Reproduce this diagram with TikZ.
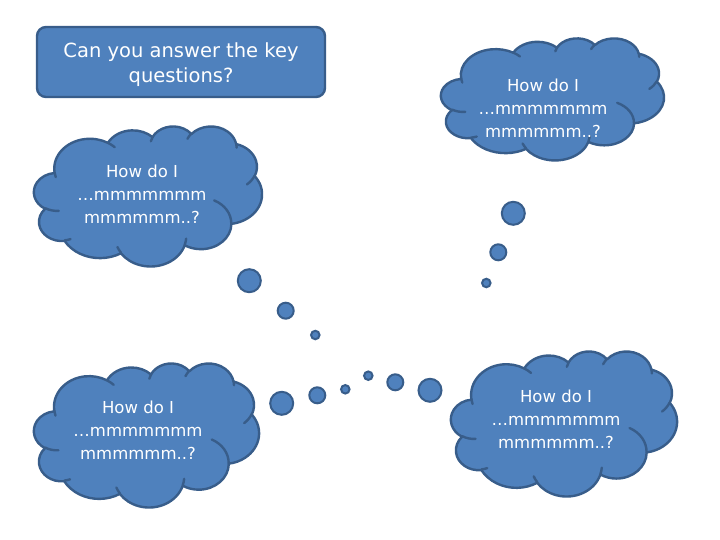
\documentclass[tikz,border=0pt]{standalone}
\usepackage{fontspec}
\setmainfont{DejaVu Sans}
\definecolor{cfill}{HTML}{4F81BD}
\definecolor{cline}{HTML}{385D8A}
\def\cpath{}
\def\ipath{}
\newcommand\addarc[4]{%
  \pgfmathsetmacro\caS{atan2(#1*sin(#3),#2*cos(#3))}%
  \pgfmathsetmacro\caE{atan2(#1*sin(#3+#4),#2*cos(#3+#4))}%
  \pgfmathsetmacro\caD{\caE-\caS}%
  \pgfmathsetmacro\caD{\caD<0 ? \caD+360 : \caD}%
  \xdef\cpath{\cpath arc[start angle=\caS, delta angle=\caD, x radius=#1, y radius=#2] }%
}
\newcommand\addiarc[6]{%
  \pgfmathsetmacro\caS{atan2(#3*sin(#5),#4*cos(#5))}%
  \pgfmathsetmacro\caE{atan2(#3*sin(#5+#6),#4*cos(#5+#6))}%
  \pgfmathsetmacro\caD{\caE-\caS}%
  \pgfmathsetmacro\caD{\caD<0 ? \caD+360 : \caD}%
  \xdef\ipath{\ipath (#1,#2) arc[start angle=\caS, delta angle=\caD, x radius=#3, y radius=#4] }%
}
\addarc{67.53}{91.90}{-190.4875}{123.7805}
\addarc{53.33}{72.67}{-144.1024}{89.9452}
\addarc{43.65}{59.45}{-145.8079}{99.7230}
\addarc{48.57}{65.95}{-130.9861}{117.2417}
\addarc{53.33}{72.73}{-78.7089}{109.0269}
\addarc{67.75}{92.20}{-46.2673}{130.2690}
\addarc{57.85}{78.67}{0.6250}{114.0333}
\addarc{67.52}{92.15}{22.4516}{115.1726}
\addarc{77.20}{105.43}{66.2426}{75.7110}
\addarc{43.60}{59.18}{-274.9421}{146.7356}
\addarc{43.45}{59.45}{-246.8285}{152.5189}
\addiarc{46.93}{261.77}{43.45}{59.45}{86.7420}{26.4295}
\addiarc{69.28}{348.99}{43.60}{59.18}{73.6105}{11.4475}
\addiarc{164.78}{390.90}{67.52}{92.15}{137.6242}{14.0811}
\addiarc{288.27}{347.51}{67.52}{92.15}{6.4533}{15.9984}
\addiarc{341.29}{229.54}{57.85}{78.67}{-70.2924}{70.9174}
\addiarc{417.98}{153.54}{53.33}{72.73}{30.3180}{27.7515}
\addiarc{383.24}{54.26}{48.57}{65.95}{-13.7443}{14.8589}
\addiarc{290.78}{39.52}{48.57}{65.95}{-149.1815}{18.1954}
\addiarc{221.41}{47.20}{43.65}{59.45}{-163.4943}{17.6864}
\addiarc{140.00}{51.92}{67.53}{91.90}{-66.7070}{12.3194}
\addiarc{41.27}{157.89}{67.53}{91.90}{157.6544}{11.8582}
\tikzset{
  cloudbody/.style={fill=cfill, draw=cline, line width=2.4pt, line join=round},
  cloudline/.style={draw=cline, line width=2.4pt, line cap=round},
  cloudtext/.style={text=white, align=center, font=\fontsize{16.5}{23}\selectfont},
  titlebox/.style={fill=cfill, draw=cline, line width=2.4pt, rounded corners=9pt},
  titletext/.style={text=white, align=center, font=\fontsize{19.5}{25}\selectfont},
  bubble/.style={circle, fill=cfill, draw=cline, line width=2pt, inner sep=0pt},
  bigb/.style={bubble, minimum size=23pt},
  midb/.style={bubble, minimum size=16pt},
  smallb/.style={bubble, minimum size=8.5pt}
}
\newcommand\drawcloud[4]{%
  \pgfmathsetmacro\sx{#3/432}\pgfmathsetmacro\sy{#4/432}%
  \begin{scope}[shift={(#1,#2)}, x=\sx pt, y=-\sy pt]
    \edef\cloudcmd{\noexpand\path[cloudbody] (39.00,143.70) \cpath -- cycle;
      \noexpand\path[cloudline] \ipath;}%
    \cloudcmd
  \end{scope}}
\begin{document}
\begin{tikzpicture}[x=1pt, y=-1pt]
\useasboundingbox[fill=white] (0,0) rectangle (720,540);
% title
\node[titlebox, minimum width=288pt, minimum height=70pt] (title) at (181,62) {};
\node[titletext] (titletxt) at (181,64.5) {Can you answer the key\\questions?};
% clouds
\drawcloud{441}{38}{223}{122}
\drawcloud{34}{126}{228}{140}
\drawcloud{34}{363}{225}{144}
\drawcloud{451}{351}{226}{145}
\node[cloudtext] (q1) at (543,108) {How do I\\…mmmmmmm\\mmmmmm..?};
\node[cloudtext] (q2) at (142,194) {How do I\\…mmmmmmm\\mmmmmm..?};
\node[cloudtext] (q3) at (138,430) {How do I\\…mmmmmmm\\mmmmmm..?};
\node[cloudtext] (q4) at (556,419) {How do I\\…mmmmmmm\\mmmmmm..?};
% bubbles
\node[bigb] (a1) at (513.3,213.3) {};
\node[midb] (a2) at (498.3,252.3) {};
\node[smallb] (a3) at (486.3,283) {};
\node[bigb] (b1) at (249.3,280.7) {};
\node[midb] (b2) at (285.7,310.7) {};
\node[smallb] (b3) at (315.3,335) {};
\node[bigb] (c1) at (281.7,403.3) {};
\node[midb] (c2) at (317.3,395.3) {};
\node[smallb] (c3) at (345.3,389.3) {};
\node[smallb] (d3) at (368.3,375.7) {};
\node[midb] (d2) at (395.3,382.3) {};
\node[bigb] (d1) at (430,390.3) {};
\end{tikzpicture}
\end{document}
